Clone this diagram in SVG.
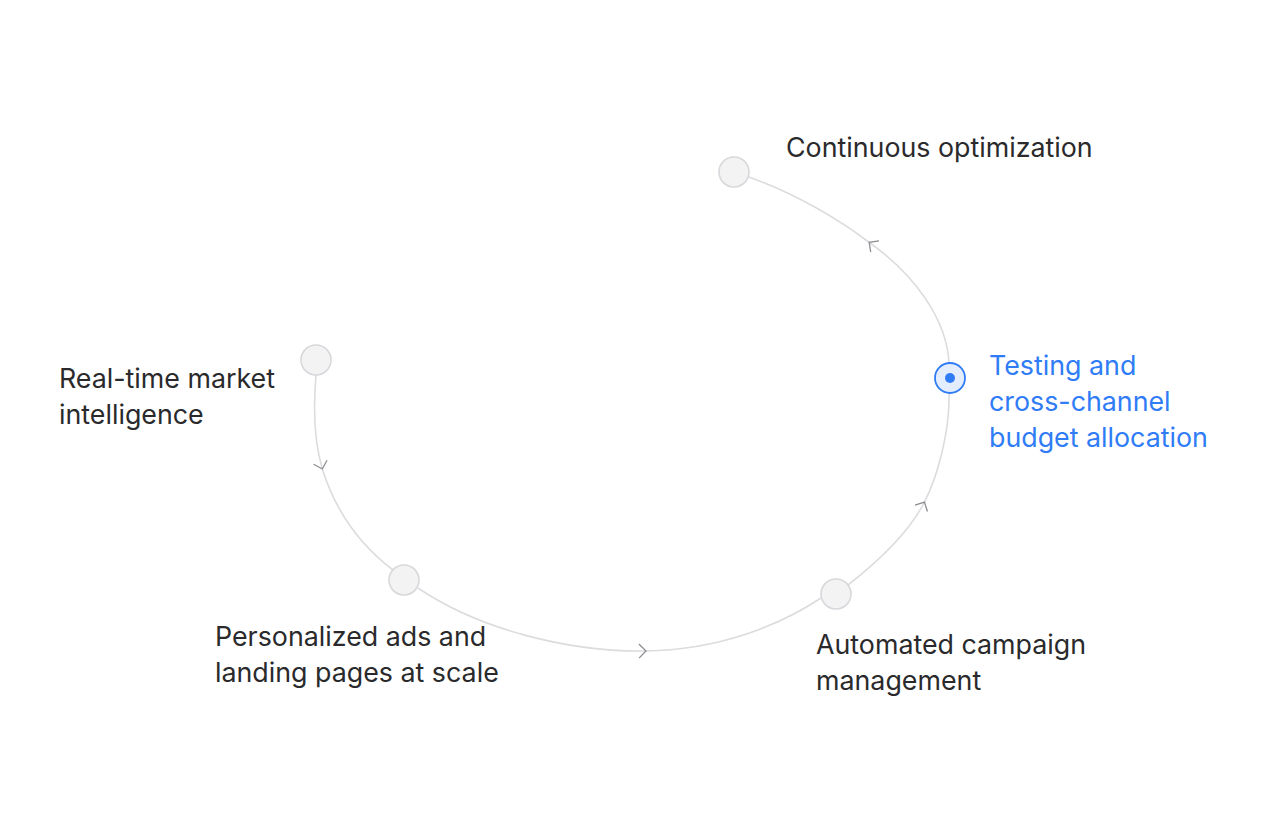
<svg xmlns="http://www.w3.org/2000/svg" width="1282" height="828" viewBox="0 0 1282 828">
<style>
.lbl{font-family:Inter,"Noto Sans","Liberation Sans",sans-serif;font-size:26.8px;fill:#2a2a2c}
.act{fill:#2f7cf6}
.node{fill:#f3f3f4;stroke:#d8d8dc;stroke-width:1.6}
.edge{fill:none;stroke:#dcdcdf;stroke-width:1.6;marker-mid:url(#chev)}
</style>
<defs>
<marker id="chev" viewBox="-10 -10 20 20" markerWidth="20" markerHeight="20" refX="0" refY="0" orient="auto" markerUnits="userSpaceOnUse">
<path d="M-6,-7 L1,0 L-6,7" fill="none" stroke="#8d8d92" stroke-width="1.3"/>
</marker>
</defs>
<rect width="1282" height="828" fill="#ffffff"/>
<g id="connectors">
<path class="edge" d="M316,375 C313,410 314,440 322,468 C335,510 360,545 393,570"/>
<path class="edge" d="M418,588 C480,630 570,652 645,651 C720,650 780,625 821,598"/>
<path class="edge" d="M848,585 C880,560 910,530 924,503 C938,476 950,430 949,393"/>
<path class="edge" d="M949,363 C947,320 915,275 870,243 C830,213 790,192 749,177"/>
</g>
<g id="node-continuous">
<circle class="node" cx="734" cy="172" r="15"/>
<text class="lbl" x="786" y="157">Continuous optimization</text>
</g>
<g id="node-realtime">
<circle class="node" cx="316" cy="360" r="15"/>
<text class="lbl" x="59" y="388">Real-time market</text>
<text class="lbl" x="59" y="424">intelligence</text>
</g>
<g id="node-personalized">
<circle class="node" cx="404" cy="580" r="15"/>
<text class="lbl" x="215" y="646">Personalized ads and</text>
<text class="lbl" x="215" y="682">landing pages at scale</text>
</g>
<g id="node-automated">
<circle class="node" cx="836" cy="594" r="15"/>
<text class="lbl" x="816" y="654">Automated campaign</text>
<text class="lbl" x="816" y="690">management</text>
</g>
<g id="node-testing">
<circle cx="950" cy="378" r="15" fill="#e3edfd" stroke="#2f7cf6" stroke-width="1.8"/>
<circle cx="950" cy="378" r="5" fill="#2f7cf6"/>
<text class="lbl act" x="989" y="375">Testing and</text>
<text class="lbl act" x="989" y="411">cross-channel</text>
<text class="lbl act" x="989" y="447">budget allocation</text>
</g>
</svg>
